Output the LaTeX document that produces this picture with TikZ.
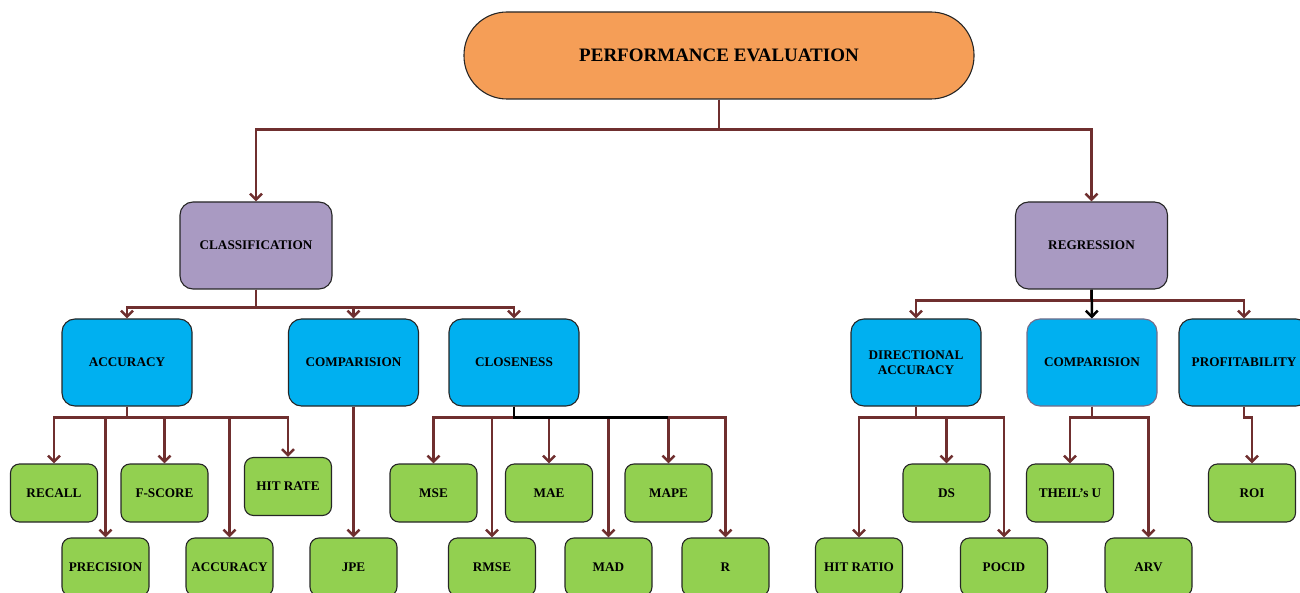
\documentclass[tikz,border=0pt]{standalone}
\usepackage{fontspec}
\setmainfont{Liberation Serif}
\usetikzlibrary{arrows.meta,positioning}

\definecolor{evalorange}{HTML}{F59E57}
\definecolor{evalpurple}{HTML}{A99AC2}
\definecolor{evalblue}{HTML}{00B0F0}
\definecolor{evalgreen}{HTML}{92D050}
\definecolor{evalbrown}{HTML}{6F2F2F}

\begin{document}
\begin{tikzpicture}[x=1pt,y=-1pt,
  box/.style={draw=black!85,line width=1.1pt,align=center,inner sep=0pt,
    font=\fontsize{13.2}{15}\selectfont\bfseries},
  topbox/.style={box,fill=evalorange,minimum width=510pt,minimum height=87pt,
    rounded corners=43pt,font=\fontsize{19}{22}\selectfont\bfseries},
  typebox/.style={box,fill=evalpurple,minimum width=152pt,minimum height=87pt,rounded corners=13pt},
  groupbox/.style={box,fill=evalblue,minimum width=130pt,minimum height=87pt,rounded corners=13pt},
  metric/.style={box,fill=evalgreen,minimum width=87pt,minimum height=58pt,rounded corners=9pt},
  link/.style={draw=evalbrown,line width=2.5pt,
    -{Straight Barb[length=6pt,width=12pt]}}]
\useasboundingbox (0,0) rectangle (1300,593);
\clip (0,0) rectangle (1300,593);

% top and the two kinds
\node[topbox] (perf) at (719,55.5) {PERFORMANCE EVALUATION};
\node[typebox] (class) at (256,245.5) {CLASSIFICATION};
\node[typebox] (reg) at (1091.5,245.5) {REGRESSION};

% groups
\node[groupbox] (acc) at (127,362.5) {ACCURACY};
\node[groupbox] (comp) at (353.5,362.5) {COMPARISION};
\node[groupbox] (close) at (514,362.5) {CLOSENESS};
\node[groupbox] (dir) at (916,362.5) {DIRECTIONAL\\ACCURACY};
\node[groupbox,draw=evalpurple!70!black] (comptwo) at (1092,362.5) {COMPARISION};
\node[groupbox] (prof) at (1244,362.5) {PROFITABILITY};

% measures, upper row
\node[metric] (recall) at (54,493) {RECALL};
\node[metric] (fscore) at (164.5,493) {F-SCORE};
\node[metric] (hitrate) at (288,486.5) {HIT RATE};
\node[metric] (mse) at (433.5,493) {MSE};
\node[metric] (mae) at (549,493) {MAE};
\node[metric] (mape) at (668.5,493) {MAPE};
\node[metric] (ds) at (946.5,493) {DS};
\node[metric] (theil) at (1070,493) {THEIL’s U};
\node[metric] (roi) at (1252,493) {ROI};

% measures, lower row
\node[metric] (prec) at (105.5,567) {PRECISION};
\node[metric] (accm) at (229.5,567) {ACCURACY};
\node[metric] (jpe) at (353.5,567) {JPE};
\node[metric] (rmse) at (492,567) {RMSE};
\node[metric] (mad) at (608.5,567) {MAD};
\node[metric] (r) at (725.5,567) {R};
\node[metric] (hitratio) at (859,567) {HIT RATIO};
\node[metric] (pocid) at (1004,567) {POCID};
\node[metric] (arv) at (1148.5,567) {ARV};

% connectors
\draw[link] (perf.south) -- ++(0,30) -| (class);
\draw[link] (perf.south) -- ++(0,30) -| (reg);

\foreach \g in {acc,comp,close}
  \draw[link] (class.south) -- ++(0,18) -| (\g);
\foreach \g in {dir,prof}
  \draw[link] (reg.south) -- ++(0,11) -| (\g);
\draw[link,draw=black] (reg) -- (comptwo);

\foreach \m in {recall,prec,fscore,accm,hitrate}
  \draw[link] (acc.south) -- ++(0,11) -| (\m);
\draw[link] (comp) -- (jpe);
\foreach \m in {mse,rmse,mae,mad,mape,r}
  \draw[link] (close.south) -- ++(0,11) -| (\m);
\draw[line width=2.5pt] (close.south) -- ++(0,11) -- ++(154,0);
\foreach \m in {hitratio,ds,pocid}
  \draw[link] (dir.south) -- ++(0,11) -| (\m);
\foreach \m in {theil,arv}
  \draw[link] (comptwo.south) -- ++(0,11) -| (\m);
\draw[link] (prof.south) -- ++(0,11) -| (roi);
\end{tikzpicture}
\end{document}
